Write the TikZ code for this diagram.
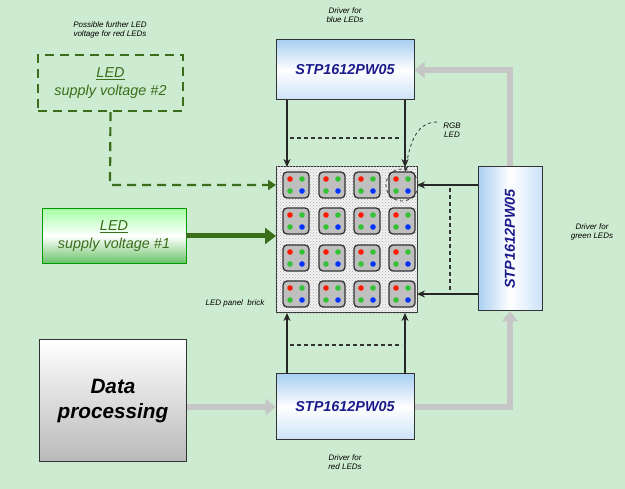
\documentclass[tikz,border=0pt]{standalone}
\usepackage{fontspec}
\setmainfont{Liberation Sans}
\usetikzlibrary{arrows.meta,patterns}
\definecolor{bg}{HTML}{CDEBD0}
\definecolor{dgreen}{HTML}{3A6E1A}
\definecolor{navy}{HTML}{1A1A8C}
\definecolor{lblue}{HTML}{A9CFF2}
\begin{document}
\begin{tikzpicture}[x=1pt,y=-1pt,
 drv/.style={draw=black!80,line width=1pt,top color=lblue,bottom color=lblue!60,middle color=white,font=\bfseries\itshape\Large,text=navy},
 lbl/.style={font=\itshape\footnotesize,align=center,inner sep=1pt},
 sig/.style={draw=black!85,line width=1.3pt,-{Stealth[length=8pt,width=7pt]}},
 dsh/.style={draw=black!80,line width=1.3pt,dash pattern=on 4pt off 3pt},
 grayarr/.style={draw=gray!45,line width=6pt,-{Triangle[length=10pt,width=16pt]}},
 cell/.style={draw=black!80,line width=1.3pt,fill=gray!50,rounded corners=4pt,minimum size=26pt,inner sep=0pt}]
\fill[bg] (0,0) rectangle (625,489);
\useasboundingbox (0,0) rectangle (625,489);
% drivers
\node[drv,minimum width=138pt,minimum height=60pt] (top) at (345,70) {STP1612PW05};
\node[drv,minimum width=138pt,minimum height=66pt] (bot) at (345,407) {STP1612PW05};
\node[draw=black!80,line width=1pt,left color=lblue,right color=lblue!60,middle color=white,minimum width=64pt,minimum height=144pt] (right) at (510,239) {};
\node[rotate=90,font=\bfseries\itshape\Large,text=navy] at (right.center) {STP1612PW05};
\node[lbl] at (345,15) {Driver for\\blue LEDs};
\node[lbl] at (345,462) {Driver for\\red LEDs};
\node[lbl] at (592,232) {Driver for\\green LEDs};
% panel
\node[draw=black!80,line width=1pt,fill=gray!10,minimum width=141pt,minimum height=146pt,inner sep=0pt] (panel) at (346.5,240) {};
\fill[pattern=crosshatch dots,pattern color=gray!60] (panel.north west) rectangle (panel.south east);
\foreach \i/\x in {1/296,2/332,3/367,4/402}{
 \foreach \j/\y in {1/185,2/221,3/258,4/294}{
  \node[cell] (c\i\j) at (\x,\y) {};
  \fill[red!80!orange] (\x-6,\y-6) circle (2.8);
  \fill[green!70!black!80] (\x+6,\y-6) circle (2.8);
  \fill[green!70!black!80] (\x-6,\y+6) circle (2.8);
  \fill[blue!80!cyan] (\x+6,\y+6) circle (2.8);
 }}
\node[lbl] at (235,303) {LED panel \ brick};
% signal arrows
\draw[sig] (287,100) -- (287,167);
\draw[sig] (405,100) -- (405,167);
\draw[dsh] (290,138) -- (402,138);
\draw[sig] (287,374) -- (287,313);
\draw[sig] (405,374) -- (405,313);
\draw[dsh] (290,345) -- (402,345);
\draw[sig] (478,185) -- (417,185);
\draw[sig] (478,294) -- (417,294);
\draw[dsh] (450,188) -- (450,292);
% RGB LED
\node[lbl] (rgb) at (452,130) {RGB\\LED};
\draw[dashed,thick,black!80] (c41) circle (16);
\draw[dashed,thick,black!80,-{Stealth[length=6pt]}] (437,122) to[out=180,in=80] (405,172);
% data processing
\node[draw=black!80,line width=1pt,top color=white,bottom color=gray!55,minimum width=147pt,minimum height=122pt,font=\bfseries\itshape\huge,align=center] (dp) at (113,401) {Data\\processing};
\draw[grayarr] (dp.east |- bot.west) -- (bot.west);
\draw[grayarr] (bot.east) -- (510,407) -- (right.south);
\draw[grayarr] (right.north) -- (510,70) -- (top.east);
% supplies
\node[draw=green!60!black,thick,top color=green!35,bottom color=green!60!black!60,middle color=white,minimum width=144pt,minimum height=55pt,font=\itshape\Large,text=dgreen,align=center,inner sep=1pt] (s1) at (114,236) {\underline{LED}\\supply voltage \#1};
\draw[dgreen,line width=5pt,-{Triangle[length=11pt,width=16pt]}] (s1.east) -- (276,236);
\node[draw=dgreen,line width=2.2pt,dash pattern=on 9pt off 6pt,minimum width=145pt,minimum height=56pt,font=\itshape\Large,text=dgreen,align=center,inner sep=1pt] (s2) at (110.5,83) {\underline{LED}\\supply voltage \#2};
\node[lbl] at (110,30) {Possible further LED\\voltage for red LEDs};
\draw[dgreen,line width=2.2pt,dash pattern=on 9pt off 6pt,-{Triangle[length=8pt,width=10pt]}] (s2.south) -- (110,185) -- (276,185);
\end{tikzpicture}
\end{document}
